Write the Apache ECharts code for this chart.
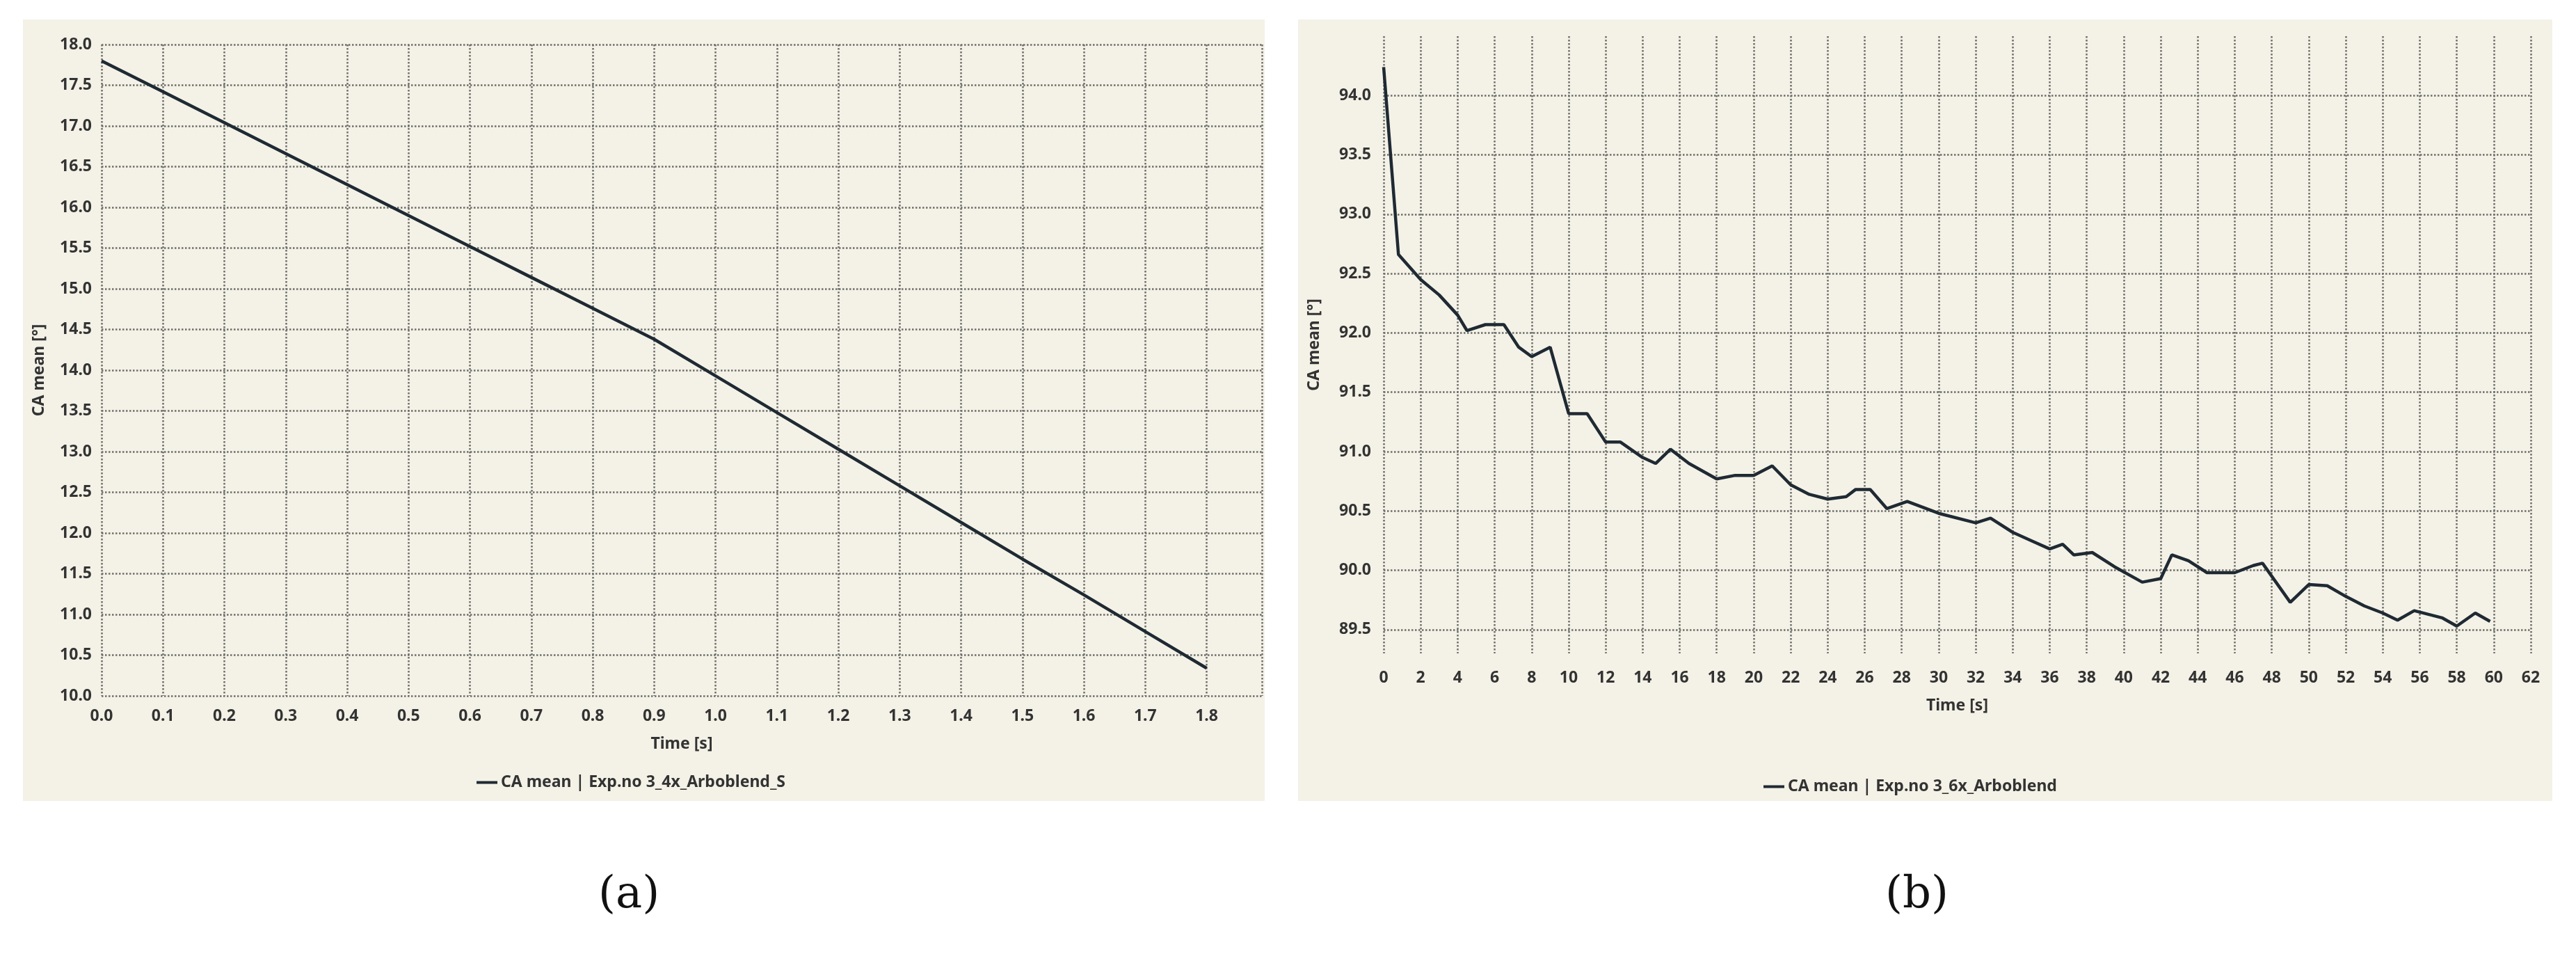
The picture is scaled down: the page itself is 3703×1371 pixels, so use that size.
<!DOCTYPE html>
<html>
<head>
<meta charset="utf-8">
<script src="https://cdn.jsdelivr.net/npm/echarts@6/dist/echarts.min.js"></script>
<style>
  html, body { margin: 0; padding: 0; background: #fff; }
  #chart { width: 3703px; height: 1371px; }
</style>
</head>
<body>
<div id="chart"></div>
<script>
// panel (a)
const timeA = [0, 0.1, 0.2, 0.3, 0.4, 0.5, 0.6, 0.7, 0.8, 0.9, 1.0, 1.1, 1.2, 1.3, 1.4, 1.5, 1.6, 1.7, 1.8];
const caA = [17.8, 17.42, 17.04, 16.66, 16.28, 15.9, 15.52, 15.14, 14.76, 14.38, 13.93, 13.48, 13.03, 12.58, 12.13, 11.68, 11.24, 10.79, 10.34];
// panel (b)
const timeB = [0, 0.8, 2, 3, 4, 4.5, 5.5, 6.5, 7.3, 8, 9, 10, 11, 12, 12.8, 14, 14.7, 15.5, 16.5, 18, 19, 20, 21, 22, 23, 24, 25, 25.5, 26.3, 27.2, 28.3, 30, 32, 32.8, 34, 35, 36, 36.7, 37.3, 38.3, 39.5, 41, 42, 42.6, 43.5, 44.5, 46, 47, 47.5, 49, 50, 51, 52, 53, 54, 54.8, 55.7, 57.2, 58, 59, 59.8];
const caB = [94.24, 92.66, 92.45, 92.32, 92.15, 92.02, 92.07, 92.07, 91.88, 91.8, 91.88, 91.32, 91.32, 91.08, 91.08, 90.95, 90.9, 91.02, 90.9, 90.77, 90.8, 90.8, 90.88, 90.72, 90.64, 90.6, 90.62, 90.68, 90.68, 90.52, 90.58, 90.48, 90.4, 90.44, 90.32, 90.25, 90.18, 90.22, 90.13, 90.15, 90.03, 89.9, 89.93, 90.13, 90.08, 89.98, 89.98, 90.04, 90.06, 89.73, 89.88, 89.87, 89.78, 89.7, 89.64, 89.58, 89.66, 89.6, 89.53, 89.64, 89.57];
const yTicksB = [89.5, 90.0, 90.5, 91.0, 91.5, 92.0, 92.5, 93.0, 93.5, 94.0];

const font = 'Noto Sans';
const labelStyle = { fontFamily: font, fontSize: 23, fontWeight: 'bold', color: '#333' };
const gridLine = { show: true, lineStyle: { color: '#6e6e6a', type: 'dotted', width: 2.5 } };
const lineColor = '#1f2a33';

const chart = echarts.init(document.getElementById('chart'));
chart.setOption({
  animation: false,
  backgroundColor: '#ffffff',
  graphic: [
    { type: 'rect', shape: { x: 33, y: 28, width: 1785, height: 1123 }, style: { fill: '#f4f2e7' }, z: -10 },
    { type: 'rect', shape: { x: 1866, y: 28, width: 1803, height: 1123 }, style: { fill: '#f4f2e7' }, z: -10 },
    { type: 'text', left: 860, top: 1255, style: { text: '(a)', font: '64px "DejaVu Serif"', fill: '#111' } },
    { type: 'text', left: 2710, top: 1255, style: { text: '(b)', font: '64px "DejaVu Serif"', fill: '#111' } }
  ],
  legend: [
    { data: ['CA mean | Exp.no 3_4x_Arboblend_S'], left: 680, top: 1108, itemWidth: 30, itemHeight: 4, icon: 'rect',
      textStyle: labelStyle },
    { data: ['CA mean | Exp.no 3_6x_Arboblend'], left: 2530, top: 1114, itemWidth: 30, itemHeight: 4, icon: 'rect',
      textStyle: labelStyle }
  ],
  grid: [
    { left: 146, top: 64, width: 1668, height: 936 },
    { left: 1989, top: 52, width: 1649, height: 887 }
  ],
  xAxis: [
    { gridIndex: 0, type: 'value', min: 0, max: 1.89, interval: 0.1, name: 'Time [s]',
      nameLocation: 'middle', nameGap: 58, nameTextStyle: labelStyle,
      axisLine: { show: false }, axisTick: { show: false }, splitLine: gridLine,
      axisLabel: Object.assign({ margin: 18, showMaxLabel: false, formatter: v => v.toFixed(1) }, labelStyle) },
    { gridIndex: 1, type: 'value', min: 0, max: 62, interval: 2, name: 'Time [s]',
      nameLocation: 'middle', nameGap: 64, nameTextStyle: labelStyle,
      axisLine: { show: false }, axisTick: { show: false }, splitLine: gridLine,
      axisLabel: Object.assign({ margin: 24 }, labelStyle) }
  ],
  yAxis: [
    { gridIndex: 0, type: 'value', min: 10, max: 18, interval: 0.5, name: 'CA mean [°]',
      nameLocation: 'middle', nameGap: 78, nameTextStyle: labelStyle,
      axisLine: { show: false }, axisTick: { show: false }, splitLine: gridLine,
      axisLabel: Object.assign({ margin: 14, formatter: v => v.toFixed(1) }, labelStyle) },
    { gridIndex: 1, type: 'value', min: 89.3, max: 94.5, name: 'CA mean [°]',
      nameLocation: 'middle', nameGap: 88, nameTextStyle: labelStyle,
      axisLine: { show: false }, splitLine: gridLine,
      axisTick: { show: false, customValues: yTicksB },
      axisLabel: Object.assign({ margin: 18, customValues: yTicksB, formatter: v => v.toFixed(1) }, labelStyle) }
  ],
  series: [
    { name: 'CA mean | Exp.no 3_4x_Arboblend_S', type: 'line', xAxisIndex: 0, yAxisIndex: 0,
      data: timeA.map((t, i) => [t, caA[i]]), showSymbol: false,
      lineStyle: { color: lineColor, width: 4.5 }, itemStyle: { color: lineColor } },
    { name: 'CA mean | Exp.no 3_6x_Arboblend', type: 'line', xAxisIndex: 1, yAxisIndex: 1,
      data: timeB.map((t, i) => [t, caB[i]]), showSymbol: false,
      lineStyle: { color: lineColor, width: 4.5 }, itemStyle: { color: lineColor } }
  ]
});
</script>
</body>
</html>
